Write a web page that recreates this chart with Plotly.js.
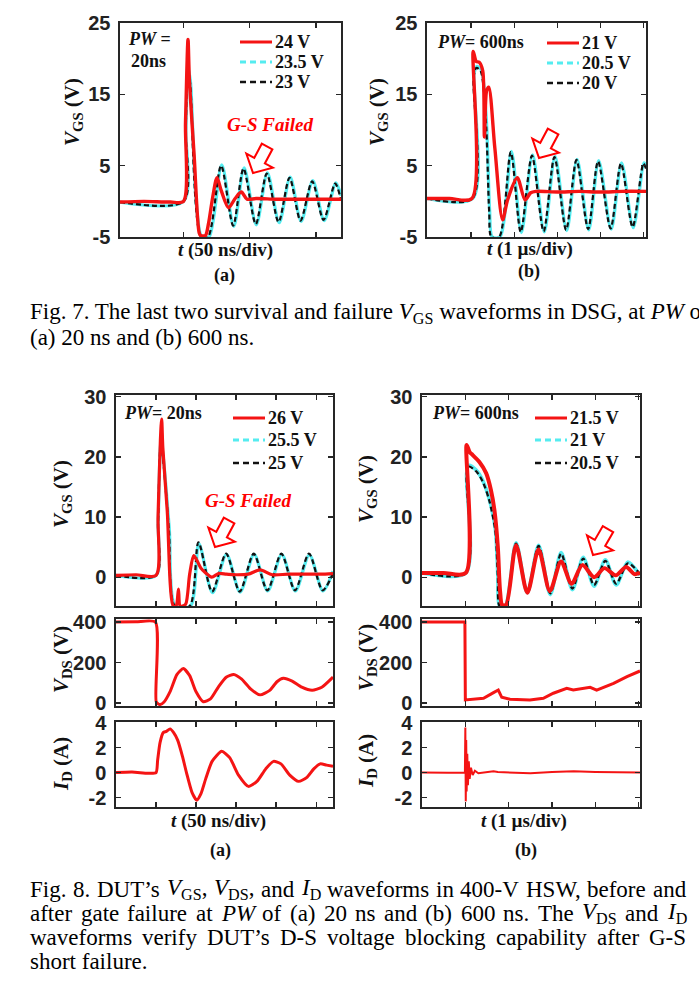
<!DOCTYPE html>
<html><head><meta charset="utf-8">
<script src="https://cdn.plot.ly/plotly-3.0.1.min.js"></script>
<style>html,body{margin:0;padding:0;background:#fff}#chart{width:699px;height:982px}</style>
</head><body><div id="chart"></div>
<script>
// ---------- DATA ----------
// Fig.7 (a): t in ns, VGS in V
const t7a_red = [2, 20, 40, 50, 51.5, 53.4, 54.4, 58, 61.8, 63, 66.5, 69, 72, 75.3, 78.5, 84, 89, 93.7, 98, 105, 120, 140, 169];
const v7a_red = [-0.1, 0.0, -0.1, 0.0, 11, 22.7, 17.2, 6.5, -4.4, -4.8, -4.8, -3.0, 0.5, 3.3, 1.5, -0.9, 0.4, 1.3, 0.3, 0.4, 0.3, 0.3, 0.3];
const t7a_blk = [2, 50, 51.6, 53.3, 55, 63.3, 68.5, 78.4, 87.5, 95.3, 104.6, 112.9, 121.8, 130.1, 138.4, 147.2, 155.8, 164.6, 169];
const v7a_blk = [-0.1, 0, 10, 18.5, 16.5, -5, -5, 5.0, -3.4, 4.6, -3.2, 3.9, -2.9, 3.3, -2.7, 2.8, -2.6, 2.5, 0.2];
const t7a_cyn = [2, 50, 51.8, 53.5, 55.3, 63.8, 69.3, 78.9, 88, 95.8, 105, 113.4, 122.3, 130.6, 138.9, 147.7, 156.3, 165.1, 169];
const v7a_cyn = [-0.1, 0, 10, 18.8, 16.7, -5, -5, 5.1, -3.5, 4.7, -3.3, 4.0, -3.0, 3.4, -2.8, 2.9, -2.7, 2.6, 0.8];
// Fig.7 (b): t in us
const t7b_red = [-0.02, 0.5, 1.02, 1.05, 1.12, 1.19, 1.27, 1.31, 1.36, 1.41, 1.55, 1.73, 1.85, 2.07, 2.25, 2.38, 2.5, 3, 3.5, 4, 4.5, 5.05];
const v7b_red = [0.4, 0.4, 0.4, 21.0, 19.6, 19.5, 18.3, 9.0, 15.5, 16.0, 7.5, -2.6, 0.3, 3.3, 0.2, 1.2, 1.4, 1.3, 1.4, 1.3, 1.4, 1.4];
const t7b_blk = [-0.02, 1.03, 1.06, 1.12, 1.22, 1.34, 1.42, 1.47, 1.65, 1.92, 2.15, 2.41, 2.68, 2.93, 3.2, 3.44, 3.71, 3.94, 4.23, 4.47, 4.74, 4.99, 5.05];
const v7b_blk = [0.4, 0.4, 17.5, 18.7, 18.3, 11.6, -1.5, -5, -5, 6.9, -4.3, 6.4, -4.2, 6.2, -4.0, 5.8, -3.9, 5.6, -3.8, 5.3, -3.6, 5.3, 4.6];
const t7b_cyn = [-0.02, 1.04, 1.07, 1.13, 1.23, 1.35, 1.43, 1.49, 1.67, 1.935, 2.165, 2.425, 2.695, 2.945, 3.215, 3.455, 3.725, 3.955, 4.245, 4.485, 4.755, 5.005, 5.05];
const v7b_cyn = [0.4, 0.4, 17.8, 18.9, 18.5, 11.9, -1.2, -5, -5, 7.0, -4.4, 6.5, -4.3, 6.3, -4.1, 5.9, -4.0, 5.7, -3.9, 5.4, -3.7, 5.4, 5.0];
// Fig.8 (a): t in ns
const t8a_red = [0, 25, 50, 52.5, 55.5, 57, 58.5, 64, 71.5, 75, 78, 80, 83, 87, 92, 97, 101, 106, 112, 119.5, 128, 138, 150, 165, 180, 195, 215, 235, 255, 271];
const v8a_red = [0.3, 0.4, 0.3, 10, 23, 26.3, 21.5, 11, -4.8, -4.8, -2.0, -4.8, -4.8, -4.5, 0.5, 3.6, 2.8, 1.5, 0.7, 0.0, 0.6, 0.5, 0.4, 0.5, 1.2, 0.4, 0.5, 0.5, 0.5, 0.6];
const t8a_blk = [0, 50, 52.5, 55.8, 58, 66, 73.5, 92, 103, 120, 137.5, 154.5, 172, 189, 206.5, 223.5, 241, 258, 271];
const v8a_blk = [0.3, 0.3, 9, 21.8, 20.5, 8, -4.8, -4.8, 5.8, -2.4, 3.9, -2.4, 3.9, -2.2, 3.9, -2.2, 3.9, -2.2, 0.6];
const t8a_cyn = [0, 50, 52.7, 56, 58.3, 66.5, 74, 93, 103.5, 120.5, 138, 155, 172.5, 189.5, 207, 224, 241.5, 258.5, 271];
const v8a_cyn = [0.3, 0.3, 9, 22.2, 20.8, 8.2, -4.8, -4.8, 5.6, -2.6, 3.8, -2.5, 3.8, -2.3, 3.8, -2.3, 3.7, -2.3, 1.0];
const t8a_vds = [0, 25, 49.2, 50.3, 54.5, 60, 68, 76, 84, 92, 100, 109, 118, 128, 138, 147, 157, 168, 180, 192, 201, 209, 220, 232, 245, 257, 271];
const v8a_vds = [400, 401, 400, 5, -8, 5, 60, 140, 170, 135, 55, 6, 20, 80, 128, 141, 118, 70, 40, 62, 105, 122, 108, 78, 63, 78, 128];
const t8a_id = [0, 20, 40, 50, 52, 55, 59, 63, 67.5, 72, 77, 83, 88, 95, 100.8, 106, 112, 120, 132, 142, 153, 165.4, 176, 187, 196.7, 206, 217, 228, 238, 247, 255, 263, 271];
const v8a_id = [0, 0.05, -0.05, 0, 1.0, 2.4, 3.2, 3.3, 3.5, 3.2, 2.6, 1.3, 0, -1.6, -2.2, -1.7, -0.5, 0.9, 1.7, 1.2, -0.2, -1.1, -0.7, 0.3, 0.9, 0.7, -0.2, -0.7, -0.4, 0.3, 0.7, 0.6, 0.5];
// Fig.8 (b): t in us
const t8b_red = [0, 0.5, 1.01, 1.03, 1.1, 1.17, 1.32, 1.48, 1.59, 1.67, 1.75, 1.8, 1.85, 1.94, 2.17, 2.43, 2.69, 2.95, 3.21, 3.45, 3.7, 3.97, 4.21, 4.47, 4.71, 4.9, 5.03];
const v8b_red = [0.7, 0.7, 0.7, 22, 20.8, 20.3, 19.2, 17.3, 14.5, 11.2, 5.0, -2.2, -4.6, -4.6, 5.3, -2.6, 4.6, -2.3, 2.6, -1.1, 2.0, 0.0, 1.5, 0.3, 1.7, 0.5, 0.7];
const t8b_blk = [0, 1.01, 1.03, 1.08, 1.25, 1.4, 1.55, 1.69, 1.75, 1.79, 1.92, 2.17, 2.43, 2.69, 2.96, 3.21, 3.47, 3.72, 3.97, 4.23, 4.48, 4.75, 5.03];
const v8b_blk = [0.7, 0.7, 17, 18.4, 17.6, 15.9, 12.8, 7.8, 0, -4.8, -4.8, 5.6, -2.4, 5.2, -2.7, 3.9, -1.9, 3.1, -1.3, 2.7, -1.1, 2.3, 0.5];
const t8b_cyn = [0, 1.01, 1.03, 1.08, 1.25, 1.4, 1.55, 1.69, 1.75, 1.79, 1.92, 2.17, 2.43, 2.69, 2.96, 3.21, 3.47, 3.72, 3.97, 4.23, 4.48, 4.75, 5.03];
const v8b_cyn = [0.7, 0.7, 17.3, 18.6, 17.8, 16.1, 13.0, 8.1, 0.3, -4.8, -4.8, 5.7, -2.6, 5.3, -2.9, 4.1, -2.1, 3.3, -1.5, 2.9, -1.3, 2.5, 0.3];
const t8b_vds = [0, 0.5, 0.99, 1.0, 1.11, 1.42, 1.65, 1.76, 1.84, 2.03, 2.49, 2.8, 3.03, 3.34, 3.49, 3.88, 4.03, 4.42, 4.73, 4.97, 5.03];
const v8b_vds = [400, 401, 400, 15, 18, 23, 51, 64, 28, 18, 15, 23, 48, 72, 64, 77, 64, 97, 130, 155, 158];
const t8b_id = [0, 0.3, 0.6, 0.99, 1.0, 1.01, 1.02, 1.03, 1.045, 1.06, 1.08, 1.1, 1.13, 1.17, 1.22, 1.3, 1.4, 1.65, 1.75, 2, 2.5, 3, 3.5, 4, 4.5, 5.03];
const v8b_id = [0, 0.02, -0.02, 0, 3.6, -2.3, 2.6, -1.5, 1.5, -1.0, 0.9, -0.5, 0.4, -0.2, 0.15, -0.05, 0, 0.1, 0.05, 0, -0.05, 0.05, 0.1, 0.05, 0, 0];

// legends / ticks
const leg7a = ['24 V', '23.5 V', '23 V'];
const leg7b = ['21 V', '20.5 V', '20 V'];
const leg8a = ['26 V', '25.5 V', '25 V'];
const leg8b = ['21.5 V', '21 V', '20.5 V'];
const tickX7a = [50, 100, 150];
const tickX7b = [1, 2, 3, 4, 5];
const tickX8a = [50, 100, 150, 200, 250];
const tickX8b = [1, 2, 3, 4, 5];
const tickY7 = [-5, 5, 15, 25];
const tickY7Text = ['-5', '5', '15', '25'];
const tickY8gs = [0, 10, 20, 30];
const tickY8gsText = ['0', '10', '20', '30'];
const tickY8ds = [0, 200, 400];
const tickY8dsText = ['0', '200', '400'];
const tickY8id = [-2, 0, 2, 4];
const tickY8idText = ['-2', '0', '2', '4'];

// captions
const cap7_line1 = 'Fig. 7. The last two survival and failure <i>V</i><sub>GS</sub> waveforms in DSG, at <i>PW</i> of';
const cap7_line2 = '(a) 20 ns and (b) 600 ns.';
const cap8_lines = [
  'Fig. 8. DUT’s <i>V</i><sub>GS</sub>, <i>V</i><sub>DS</sub>, and <i>I</i><sub>D</sub> waveforms in 400-V HSW, before and',
  'after gate failure at <i>PW</i> of (a) 20 ns and (b) 600 ns. The <i>V</i><sub>DS</sub> and <i>I</i><sub>D</sub>',
  'waveforms verify DUT’s D-S voltage blocking capability after G-S'
];
const cap8_last = 'short failure.';

// ---------- STYLE / LAYOUT ----------
const W = 699, H = 982;
const PX = v => v / W, PY = v => 1 - v / H;
const RED = '#f41414', CYAN = '#55ecf0', BLK = '#111111', AXC = '#262626';
const SERIF = 'Liberation Serif', SANS = 'Liberation Sans';
const CAPSIZE = 23;

const panels = [
  {x: [120, 341], y: [23, 237], xr: [2, 169], yr: [-5, 25], xt: tickX7a, yt: tickY7, ytt: tickY7Text},
  {x: [427, 646], y: [23, 237], xr: [-0.02, 5.05], yr: [-5, 25], xt: tickX7b, yt: tickY7, ytt: tickY7Text},
  {x: [116, 333], y: [395, 606], xr: [0, 271], yr: [-4.8, 30.3], xt: tickX8a, yt: tickY8gs, ytt: tickY8gsText},
  {x: [116, 333], y: [619, 706], xr: [0, 271], yr: [-15, 415], xt: tickX8a, yt: tickY8ds, ytt: tickY8dsText},
  {x: [116, 333], y: [722, 807], xr: [0, 271], yr: [-2.75, 4.05], xt: tickX8a, yt: tickY8id, ytt: tickY8idText},
  {x: [422, 640], y: [395, 606], xr: [0, 5.03], yr: [-4.8, 30.3], xt: tickX8b, yt: tickY8gs, ytt: tickY8gsText},
  {x: [422, 640], y: [619, 706], xr: [0, 5.03], yr: [-15, 415], xt: tickX8b, yt: tickY8ds, ytt: tickY8dsText},
  {x: [422, 640], y: [722, 807], xr: [0, 5.03], yr: [-2.75, 4.05], xt: tickX8b, yt: tickY8id, ytt: tickY8idText}
];

const layout = {
  width: W, height: H, margin: {l: 0, r: 0, t: 0, b: 0},
  paper_bgcolor: '#ffffff', plot_bgcolor: 'rgba(0,0,0,0)', showlegend: false,
  font: {family: SERIF}, shapes: [], annotations: []
};
panels.forEach((p, i) => {
  const s = i === 0 ? '' : String(i + 1);
  layout['xaxis' + s] = {
    domain: [PX(p.x[0]), PX(p.x[1])], range: p.xr, anchor: 'y' + s,
    showgrid: false, zeroline: false, showline: true, mirror: 'ticks',
    linecolor: AXC, linewidth: 1.6, ticks: 'inside', ticklen: 5, tickwidth: 1.3, tickcolor: AXC,
    tickmode: 'array', tickvals: p.xt, showticklabels: false, fixedrange: true
  };
  layout['yaxis' + s] = {
    domain: [PY(p.y[1]), PY(p.y[0])], range: p.yr, anchor: 'x' + s,
    showgrid: false, zeroline: false, showline: true, mirror: 'ticks',
    linecolor: AXC, linewidth: 1.6, ticks: 'inside', ticklen: 5, tickwidth: 1.3, tickcolor: AXC,
    tickmode: 'array', tickvals: p.yt, ticktext: p.ytt, ticklabelstandoff: 4,
    tickfont: {family: SANS, size: 20, color: '#222', weight: 'bold'}, fixedrange: true
  };
});

const traces = [];
function tr(x, y, ax, color, width, dash, shape, sm) {
  const s = ax === 1 ? '' : String(ax);
  traces.push({type: 'scatter', mode: 'lines', x: x, y: y, xaxis: 'x' + s, yaxis: 'y' + s,
    line: {color: color, width: width, dash: dash || 'solid', shape: shape || 'spline', smoothing: sm === undefined ? 0.8 : sm},
    hoverinfo: 'skip', showlegend: false});
}
const DASH = '5px,3px';
tr(t7a_cyn, v7a_cyn, 1, CYAN, 3.2); tr(t7a_blk, v7a_blk, 1, BLK, 2.2, DASH); tr(t7a_red, v7a_red, 1, RED, 3.4);
tr(t7b_cyn, v7b_cyn, 2, CYAN, 3.2); tr(t7b_blk, v7b_blk, 2, BLK, 2.2, DASH); tr(t7b_red, v7b_red, 2, RED, 3.4);
tr(t8a_cyn, v8a_cyn, 3, CYAN, 3.2); tr(t8a_blk, v8a_blk, 3, BLK, 2.2, DASH); tr(t8a_red, v8a_red, 3, RED, 3.2);
tr(t8a_vds, v8a_vds, 4, RED, 3, 'solid', 'spline', 0.6);
tr(t8a_id, v8a_id, 5, RED, 3, 'solid', 'spline', 0.6);
tr(t8b_cyn, v8b_cyn, 6, CYAN, 3.6); tr(t8b_blk, v8b_blk, 6, BLK, 2.2, DASH); tr(t8b_red, v8b_red, 6, RED, 4);
tr(t8b_vds, v8b_vds, 7, RED, 3, 'solid', 'linear');
tr(t8b_id, v8b_id, 8, RED, 2, 'solid', 'linear');

function txt(x, y, text, size, o) {
  o = o || {};
  layout.annotations.push({xref: 'paper', yref: 'paper', x: PX(x), y: PY(y), text: text, showarrow: false,
    xanchor: o.xa || 'center', yanchor: 'middle', textangle: o.rot || 0, borderpad: 0, borderwidth: 0,
    font: {family: o.fam || SERIF, size: size, color: o.color || '#111'}});
}
function legend(x0, ys, labels) {
  const sty = [{c: RED, w: 3, d: 'solid'}, {c: CYAN, w: 3, d: '6px,4px'}, {c: BLK, w: 2.5, d: '6px,4px'}];
  labels.forEach((lab, k) => {
    layout.shapes.push({type: 'line', xref: 'paper', yref: 'paper', x0: PX(x0), x1: PX(x0 + 32), y0: PY(ys[k]), y1: PY(ys[k]),
      line: {color: sty[k].c, width: sty[k].w, dash: sty[k].d}});
    txt(x0 + 35, ys[k], '<b>' + lab + '</b>', 18, {xa: 'left'});
  });
}
legend(240, [42, 62, 82], leg7a);
legend(547, [43, 63, 83], leg7b);
legend(233, [418, 440, 463], leg8a);
legend(535, [418, 440, 463], leg8b);

function arrow(tx, ty, ang) {
  const P = [[0, 0], [15, -14], [6, -14], [6, -30], [-6, -30], [-6, -14], [-15, -14]];
  const a = ang * Math.PI / 180, c = Math.cos(a), s = Math.sin(a);
  const pts = P.map(q => [tx + q[0] * c - q[1] * s, ty + q[0] * s + q[1] * c]);
  layout.shapes.push({type: 'path', xref: 'paper', yref: 'paper',
    path: 'M' + pts.map(q => PX(q[0]) + ',' + PY(q[1])).join('L') + 'Z',
    line: {color: '#ff0000', width: 2}, fillcolor: '#ffffff'});
}
arrow(253, 173, 28);
arrow(539, 158, 28);
arrow(215, 547, 28);
arrow(593, 555, 30);

txt(128, 39, '<b><i>PW</i> =</b>', 18, {xa: 'left'});
txt(131, 61, '<b>20ns</b>', 18, {xa: 'left'});
txt(270, 125, '<b><i>G-S Failed</i></b>', 19, {color: '#ff0000'});
txt(437, 42, '<b><i>PW</i>= 600ns</b>', 18, {xa: 'left'});
txt(124, 413, '<b><i>PW</i>= 20ns</b>', 18, {xa: 'left'});
txt(248, 500, '<b><i>G-S Failed</i></b>', 19, {color: '#ff0000'});
txt(432, 413, '<b><i>PW</i>= 600ns</b>', 18, {xa: 'left'});

const VGS = '<b><i>V</i><sub>GS</sub> (V)</b>', VDS = '<b><i>V</i><sub>DS</sub> (V)</b>', ID = '<b><i>I</i><sub>D</sub> (A)</b>';
txt(73, 112, VGS, 21, {rot: -90});
txt(378, 112, VGS, 21, {rot: -90});
txt(62, 494, VGS, 21, {rot: -90});
txt(367, 489, VGS, 21, {rot: -90});
txt(62, 660, VDS, 21, {rot: -90});
txt(367, 658, VDS, 21, {rot: -90});
txt(62, 764, ID, 21, {rot: -90});
txt(367, 761, ID, 21, {rot: -90});
txt(225, 250, '<b><i>t</i> (50 ns/div)</b>', 19);
txt(530, 249, '<b><i>t</i> (1 µs/div)</b>', 19);
txt(224, 275, '<b>(a)</b>', 18);
txt(529, 272, '<b>(b)</b>', 18);
txt(218, 821, '<b><i>t</i> (50 ns/div)</b>', 19);
txt(524, 821, '<b><i>t</i> (1 µs/div)</b>', 19);
txt(220, 850, '<b>(a)</b>', 18);
txt(526, 850, '<b>(b)</b>', 18);

// ---- captions: measure words with canvas to justify lines ----
const ctx = document.createElement('canvas').getContext('2d');
function measure(html, size) {
  let w = 0, it = false, sub = false;
  const re = /<(\/?)(i|sub)>|[^<]+/g;
  let m;
  while ((m = re.exec(html)) !== null) {
    if (m[2]) {
      const on = m[1] !== '/';
      if (m[2] === 'i') it = on; else sub = on;
    } else {
      ctx.font = (it ? 'italic ' : '') + (sub ? size * 0.7 : size) + 'px "' + SERIF + '"';
      w += ctx.measureText(m[0]).width;
    }
  }
  return w;
}
function justify(line, y, x0, x1, size) {
  const words = line.split(' ');
  const widths = words.map(w => measure(w, size));
  const total = widths.reduce((a, b) => a + b, 0);
  const gap = (x1 - x0 - total) / (words.length - 1);
  let x = x0;
  words.forEach((w, k) => {
    txt(x, y, w, size, {xa: 'left', color: '#000'});
    x += widths[k] + gap;
  });
}
txt(30, 313, cap7_line1, CAPSIZE, {xa: 'left', color: '#000'});
txt(30, 337, cap7_line2, CAPSIZE, {xa: 'left', color: '#000'});
cap8_lines.forEach((ln, k) => justify(ln, 889 + 24 * k, 30, 686, CAPSIZE));
txt(30, 961, cap8_last, CAPSIZE, {xa: 'left', color: '#000'});

Plotly.newPlot('chart', traces, layout, {staticPlot: true, displayModeBar: false});
</script></body></html>
